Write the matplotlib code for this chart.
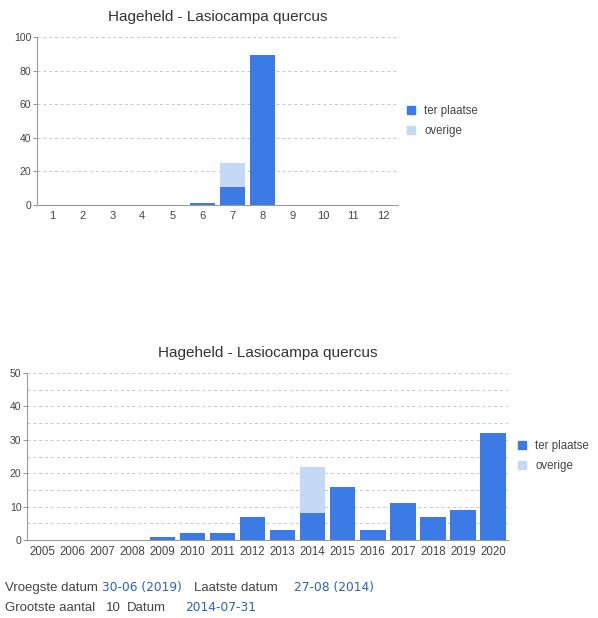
import matplotlib
matplotlib.use("Agg")
import matplotlib.pyplot as plt
import matplotlib.patches as mpatches
import numpy as np

plt.rcParams["font.family"] = ["Liberation Sans", "DejaVu Sans"]

# donnees
TITRE = "Hageheld - Lasiocampa quercus"
MAANDEN = [1, 2, 3, 4, 5, 6, 7, 8, 9, 10, 11, 12]
MAAND_TER_PLAATSE = [0, 0, 0, 0, 0, 1, 11, 89, 0, 0, 0, 0]
MAAND_OVERIGE = [0, 0, 0, 0, 0, 0, 14, 0, 0, 0, 0, 0]

JAREN = [2005, 2006, 2007, 2008, 2009, 2010, 2011, 2012,
         2013, 2014, 2015, 2016, 2017, 2018, 2019, 2020]
JAAR_TER_PLAATSE = [0, 0, 0, 0, 1, 2, 2, 7, 3, 8, 16, 3, 11, 7, 9, 32]
JAAR_OVERIGE = [0, 0, 0, 0, 0, 0, 0, 0, 0, 14, 0, 0, 0, 0, 0, 0]

LEGENDE = ["ter plaatse", "overige"]

BLEU = "#3c7be6"
BLEU_CLAIR = "#c5d8f6"
GRIS_TEXTE = "#444444"
GRIS_AXE = "#9a9a9a"
LIEN = "#2a62b8"


def style_axe(ax, ymax, major, minor, taille_x):
    ax.set_ylim(0, ymax)
    ax.set_yticks(np.arange(0, ymax + 1, major))
    ax.set_yticks(np.arange(0, ymax + 1, minor), minor=True)
    ax.grid(axis="y", which="both", color="#c8c8c8", linestyle=(0, (3, 3)),
            linewidth=0.7)
    ax.set_axisbelow(True)
    for cote in ["top", "right"]:
        ax.spines[cote].set_visible(False)
    ax.spines["left"].set_color(GRIS_AXE)
    ax.spines["bottom"].set_color(GRIS_AXE)
    ax.spines["left"].set_linewidth(0.8)
    ax.spines["bottom"].set_linewidth(0.8)
    ax.tick_params(axis="y", which="major", length=3, color=GRIS_AXE,
                   labelsize=7.5, labelcolor=GRIS_TEXTE, pad=1)
    ax.tick_params(axis="y", which="minor", length=0)
    ax.tick_params(axis="x", length=0, labelsize=taille_x,
                   labelcolor=GRIS_TEXTE, pad=4)
    ax.set_title(TITRE, fontsize=11, color="#333333", pad=11.5)


def legende(ax, x, y):
    handles = [mpatches.Patch(color=BLEU, label=LEGENDE[0]),
               mpatches.Patch(color=BLEU_CLAIR, label=LEGENDE[1])]
    leg = ax.legend(handles=handles, loc="center left", bbox_to_anchor=(x, y),
                    frameon=False, fontsize=8.3, handlelength=0.7,
                    handleheight=0.7, handletextpad=0.8, labelspacing=0.75,
                    borderaxespad=0, borderpad=0)
    for t in leg.get_texts():
        t.set_color(GRIS_TEXTE)


fig = plt.figure(figsize=(5.98, 6.18), dpi=100, facecolor="white")

# graphique par mois
ax1 = fig.add_axes([0.0619, 0.6683, 0.6037, 0.2718])
x1 = np.arange(len(MAANDEN))
ax1.bar(x1, MAAND_TER_PLAATSE, width=0.83, color=BLEU)
ax1.bar(x1, MAAND_OVERIGE, width=0.83, bottom=MAAND_TER_PLAATSE,
        color=BLEU_CLAIR)
ax1.set_xlim(-0.5, len(MAANDEN) - 0.5)
ax1.set_xticks(x1)
ax1.set_xticklabels([str(m) for m in MAANDEN])
style_axe(ax1, 100, 20, 20, 8)
legende(ax1, 1.025, 0.5)

# graphique par annee
ax2 = fig.add_axes([0.0452, 0.1262, 0.8043, 0.2702])
x2 = np.arange(len(JAREN))
ax2.bar(x2, JAAR_TER_PLAATSE, width=0.85, color=BLEU)
ax2.bar(x2, JAAR_OVERIGE, width=0.85, bottom=JAAR_TER_PLAATSE,
        color=BLEU_CLAIR)
ax2.set_xlim(-0.5, len(JAREN) - 0.5)
ax2.set_xticks(x2)
ax2.set_xticklabels([str(j) for j in JAREN])
style_axe(ax2, 50, 10, 5, 8.3)
legende(ax2, 1.021, 0.503)

# texte sous les graphiques (position x de depart en pixels)
ligne1 = [("Vroegste datum", GRIS_TEXTE, 5), ("30-06 (2019)", LIEN, 102),
          ("Laatste datum", GRIS_TEXTE, 194), ("27-08 (2014)", LIEN, 294)]
ligne2 = [("Grootste aantal", GRIS_TEXTE, 5), ("10", GRIS_TEXTE, 106),
          ("Datum", GRIS_TEXTE, 127), ("2014-07-31", LIEN, 185)]

for ybase, morceaux in [(591, ligne1), (611, ligne2)]:
    for texte, couleur, xpix in morceaux:
        if couleur == LIEN:
            police, taille = ["DejaVu Sans"], 8.8
        else:
            police, taille = ["Liberation Sans"], 9.5
        fig.text(xpix / 598, 1 - ybase / 618, texte, fontsize=taille,
                 color=couleur, va="baseline", family=police)

fig.savefig("out.png", dpi=100, facecolor="white")
